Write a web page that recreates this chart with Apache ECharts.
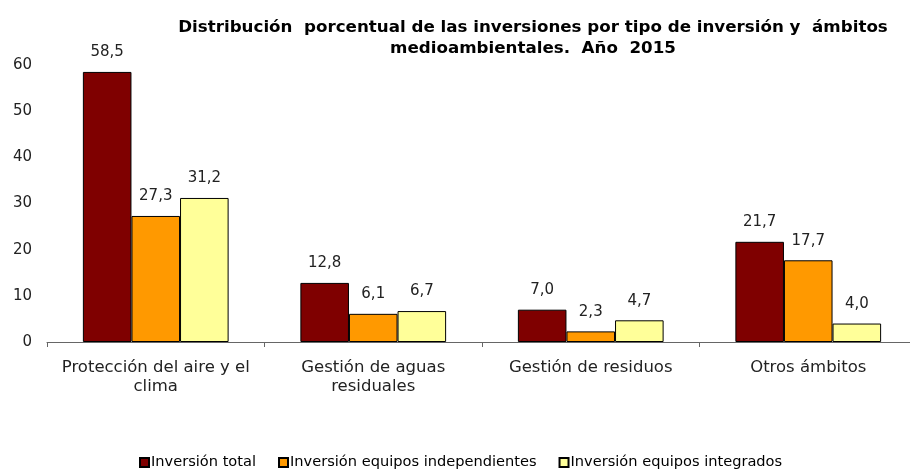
<!DOCTYPE html>
<html>
<head>
<meta charset="utf-8">
<script src="https://cdn.jsdelivr.net/npm/echarts@6/dist/echarts.min.js"></script>
<style>
  html, body { margin: 0; padding: 0; background: #fff; overflow: hidden; }
  #chart { width: 920px; height: 469px; }
</style>
</head>
<body>
<div id="chart"></div>
<script>
  const categories = [
    'Protección del aire y el\nclima',
    'Gestión de aguas\nresiduales',
    'Gestión de residuos',
    'Otros ámbitos'
  ]
  const seriesNames = [
    'Inversión total',
    'Inversión equipos independientes',
    'Inversión equipos integrados'
  ]
  const inversionTotal = [58.5, 12.8, 7.0, 21.7]
  const equiposIndependientes = [27.3, 6.1, 2.3, 17.7]
  const equiposIntegrados = [31.2, 6.7, 4.7, 4.0]
  const colors = ['#7f0000', '#ff9900', '#ffff99']

  // chart div is a bit wider than the page, the plot runs past the right edge like the original
  const chart = echarts.init(document.getElementById('chart'), null, { renderer: 'canvas' })

  const makeSeries = (name, data, color) => ({
    name: name,
    type: 'bar',
    data: data,
    barGap: '0%',
    barCategoryGap: '33%',
    itemStyle: { color: color, borderColor: '#000', borderWidth: 1 },
    label: {
      show: true,
      position: 'top',
      distance: 12,
      color: '#222',
      fontFamily: 'DejaVu Sans',
      fontSize: 15,
      formatter: p => p.value.toFixed(1).replace('.', ',')
    }
  })

  const option = {
    animation: false,
    title: {
      text: 'Distribución  porcentual de las inversiones por tipo de inversión y  ámbitos\nmedioambientales.  Año  2015',
      left: 528,
      top: 12,
      textAlign: 'center',
      textStyle: {
        fontFamily: 'DejaVu Sans',
        fontWeight: 'bold',
        fontSize: 16.7,
        lineHeight: 21,
        color: '#000'
      }
    },
    legend: {
      top: 455,
      left: 139,
      padding: 0,
      itemWidth: 9,
      itemHeight: 9,
      itemGap: 22,
      icon: 'rect',
      textStyle: { fontFamily: 'DejaVu Sans', fontSize: 14.6, color: '#000', padding: [0, 0, 0, -3] },
      data: seriesNames
    },
    grid: { left: 47, top: 65, right: 3, bottom: 127 },
    xAxis: {
      type: 'category',
      data: categories,
      axisLine: { lineStyle: { color: '#666', width: 1 } },
      axisTick: { show: true, length: 5, lineStyle: { color: '#666' } },
      axisLabel: {
        interval: 0,
        color: '#222',
        fontFamily: 'DejaVu Sans',
        fontSize: 16.5,
        lineHeight: 19,
        margin: 16
      }
    },
    yAxis: {
      type: 'value',
      min: 0,
      max: 60,
      interval: 10,
      axisLine: { show: false },
      axisTick: { show: false },
      splitLine: { show: false },
      axisLabel: {
        color: '#222',
        fontFamily: 'DejaVu Sans',
        fontSize: 15,
        margin: 15
      }
    },
    series: [
      makeSeries(seriesNames[0], inversionTotal, colors[0]),
      makeSeries(seriesNames[1], equiposIndependientes, colors[1]),
      makeSeries(seriesNames[2], equiposIntegrados, colors[2])
    ]
  }

  option && chart.setOption(option)
</script>
</body>
</html>
